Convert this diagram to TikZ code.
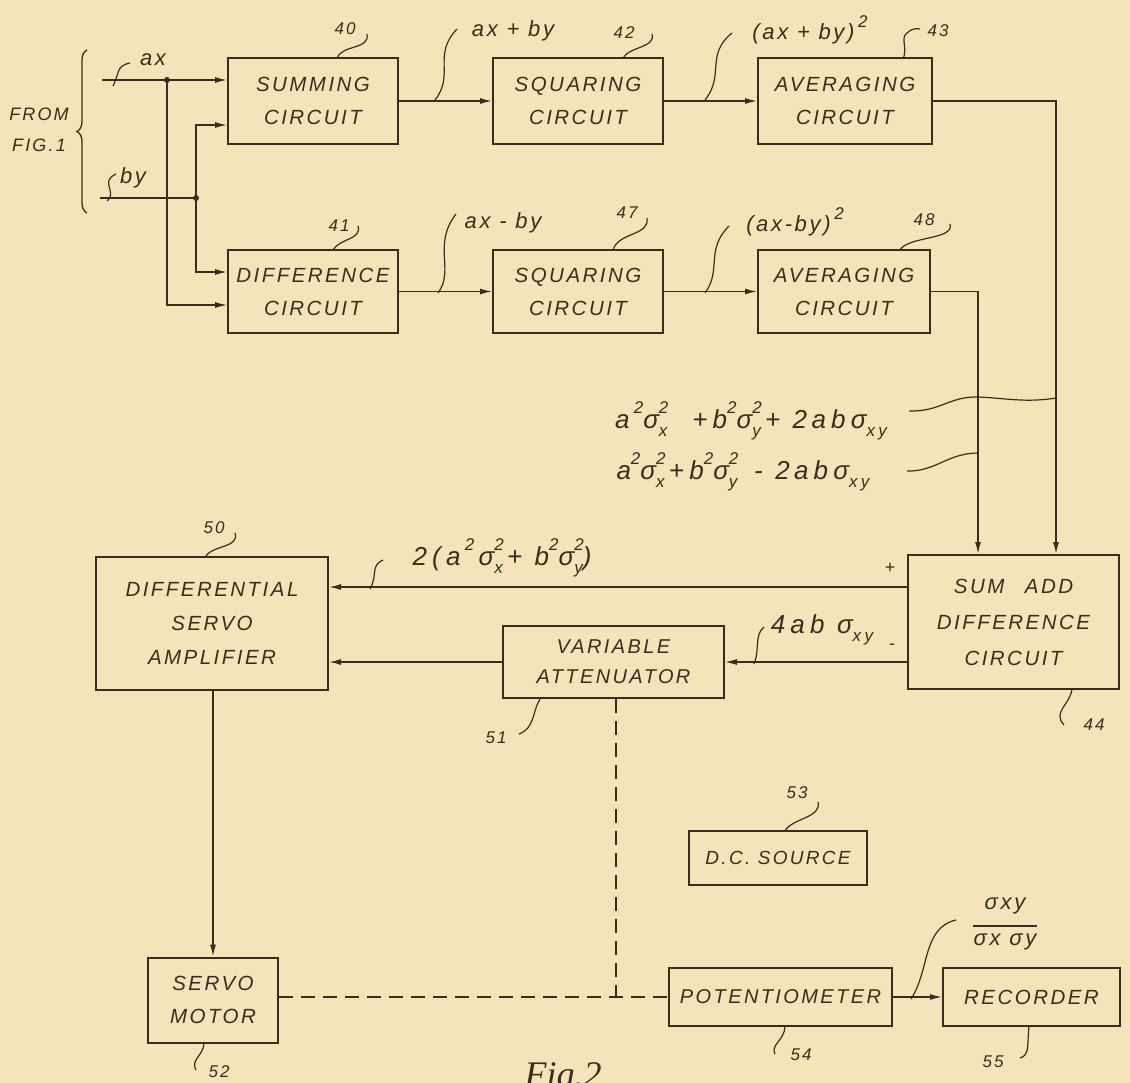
\documentclass[tikz,border=0pt]{standalone}
\usepackage{fontspec}
\setmainfont{Liberation Sans}[LetterSpace=12]
\newfontfamily\figfont{Liberation Serif}
\usetikzlibrary{arrows.meta,calc,decorations.pathreplacing}
\definecolor{paper}{RGB}{246,227,186}
\definecolor{ink}{RGB}{58,45,32}
\newcommand\smallscr{\fontsize{17}{17}\selectfont}
\newcommand\mySS[2]{\makebox[0pt][l]{\raisebox{0.55em}{\smallscr #1}}\raisebox{-0.32em}{\smallscr #2}}
\newcommand\mySup[1]{\raisebox{0.55em}{\smallscr #1}}
\newcommand\mySub[1]{\raisebox{-0.32em}{\smallscr #1}}
\newcommand\blkfont{\fontsize{20.5}{33}\selectfont\itshape}
\newcommand\lblfont{\fontsize{22}{26}\selectfont\itshape}
\newcommand\frmfont{\fontsize{26}{30}\selectfont\itshape\addfontfeatures{LetterSpace=20}}
\newcommand\reffont{\fontsize{17}{20}\selectfont\itshape}
\tikzset{
  blk/.style={draw=ink, line width=2pt, rectangle, inner sep=0pt, align=center, text=ink, font=\blkfont},
  wire/.style={draw=ink, line width=1.4pt},
  arr/.style={wire, -{Latex[length=12pt,width=6pt]}},
  lead/.style={draw=ink, line width=1.2pt},
  lbl/.style={text=ink, inner sep=0pt, font=\lblfont},
  frm/.style={text=ink, inner sep=0pt, font=\frmfont},
  refn/.style={text=ink, inner sep=0pt, font=\reffont},
  dsh/.style={draw=ink, line width=1.4pt, dash pattern=on 14pt off 8pt},
}
\begin{document}
\begin{tikzpicture}[x=1pt,y=-1pt]
\useasboundingbox (0,0) rectangle (1130,1083);
\fill[paper] (0,0) rectangle (1130,1083);

% blocks
\node[blk, minimum width=170pt, minimum height=86pt] (sum) at (313,101) {SUMMING\\CIRCUIT};
\node[blk, minimum width=170pt, minimum height=86pt] (sq1) at (578,101) {SQUARING\\CIRCUIT};
\node[blk, minimum width=174pt, minimum height=86pt] (avg1) at (845,101) {AVERAGING\\CIRCUIT};
\node[blk, minimum width=170pt, minimum height=83pt] (dif) at (313,291.5) {DIFFERENCE\\CIRCUIT};
\node[blk, minimum width=170pt, minimum height=83pt] (sq2) at (578,291.5) {SQUARING\\CIRCUIT};
\node[blk, minimum width=172pt, minimum height=83pt] (avg2) at (844,291.5) {AVERAGING\\CIRCUIT};
\node[blk, minimum width=211pt, minimum height=134pt, font=\fontsize{20.5}{36}\selectfont\itshape] (sad) at (1013.5,622) {SUM\quad ADD\\DIFFERENCE\\CIRCUIT};
\node[blk, minimum width=232pt, minimum height=133pt, font=\fontsize{20.5}{34}\selectfont\itshape] (dsa) at (212,623.5) {DIFFERENTIAL\\SERVO\\AMPLIFIER};
\node[blk, minimum width=221pt, minimum height=72pt, font=\fontsize{20}{30}\selectfont\itshape] (att) at (613.5,662) {VARIABLE\\ATTENUATOR};
\node[blk, minimum width=130pt, minimum height=85pt] (sm) at (213,1000) {SERVO\\MOTOR};
\node[blk, minimum width=178pt, minimum height=54pt, font=\fontsize{19}{22}\selectfont\itshape] (dcs) at (778,858) {D.C. SOURCE};
\node[blk, minimum width=223pt, minimum height=58pt, font=\fontsize{20}{22}\selectfont\itshape] (pot) at (780.5,997) {POTENTIOMETER};
\node[blk, minimum width=177pt, minimum height=58pt] (rec) at (1031.5,997) {RECORDER};

% inputs
\coordinate (axin) at (102,80);
\coordinate (byin) at (100,198);
\coordinate (J1) at (167,80);
\coordinate (J2) at (196,198);
\draw[arr] (axin) -- (axin -| sum.west);
\draw[wire] (byin) -- (J2);
\draw[arr] (J2) |- ($(sum.west)+(0,24)$);
\draw[arr] (J2) |- ($(dif.west)+(0,-19.5)$);
\draw[arr] (J1) |- ($(dif.west)+(0,13.5)$);
\fill[ink] (J1) circle (3pt);
\fill[ink] (J2) circle (3pt);
\draw[draw=ink, line width=1.3pt, decorate, decoration={brace, amplitude=10pt}] (87,213) -- (87,50);
\node[text=ink, inner sep=0pt, font=\fontsize{18}{31}\selectfont\itshape, align=center] (from) at (39,130) {FROM\\FIG.1};

% chains
\draw[arr] (sum.east) -- (sq1.west);
\draw[arr] (sq1.east) -- (avg1.west);
\draw[arr] (dif.east) -- (sq2.west);
\draw[arr] (sq2.east) -- (avg2.west);
\draw[arr] (avg1.east) -| ($(sad.north)+(42.5,0)$);
\draw[arr] (avg2.east) -| ($(sad.north)+(-35.5,0)$);

% lower section
\coordinate (plusout) at ($(sad.west)+(0,-35)$);
\draw[arr] (plusout) -- (plusout -| dsa.east);
\draw[arr] (sad.west |- att.east) -- (att.east);
\draw[arr] (att.west) -- (att.west -| dsa.east);
\draw[arr] (dsa.south -| sm.north) -- (sm.north);
\draw[dsh] (sm.east |- pot.west) -- (pot.west);
\coordinate (attd) at ($(att.south)+(2.5,0)$);
\draw[dsh] (attd) -- (attd |- pot.west);
\draw[wire] ($(dcs.south)+(-49,0)$) -- ($(dcs.south)+(-49,0)$ |- pot.north);
\draw[wire] ($(dcs.south)+(52,0)$) -- ($(dcs.south)+(52,0)$ |- pot.north);
\draw[arr] (pot.east) -- (rec.west);

% signal labels
\node[lbl] (lax) at (153,60) {ax};
\node[lbl] (lby) at (133,178) {by};
\node[lbl] (lsum) at (513,31) {ax + by};
\node[lbl] (ldif) at (503,223) {ax - by};
\node[lbl] (lsq1) at (810,30) {(ax + by)\,\mySup{2}};
\node[lbl] (lsq2) at (795,222) {(ax-by)\,\mySup{2}};
\node[frm] (f1) at (751,421) {a\,\mySup{2}σ\mySS{2}{x}\ \ +b\mySup{2}σ\mySS{2}{y}\,+ 2\,abσ\mySub{xy}};
\node[frm] (f2) at (743,472) {a\mySup{2}σ\mySS{2}{x}\,+b\mySup{2}σ\mySS{2}{y}\ \,- 2\,abσ\mySub{xy}};
\node[frm] (lplus) at (502,558) {2(a\,\mySup{2}\,σ\mySS{2}{x}\,+ b\mySup{2}σ\mySS{2}{y})};
\node[frm] (lminus) at (822,630) {4ab σ\mySub{xy}};
\node[lbl, font=\fontsize{18}{20}\selectfont] (pl) at (890,568) {+};
\node[lbl, font=\fontsize{18}{20}\selectfont] (mi) at (892,647) {-};
\node[lbl, align=center, font=\fontsize{22}{22}\selectfont\itshape] (frac) at (1005,924) {σxy\\[-5pt]\rule{64pt}{1.2pt}\\[-3pt]σx σy};

% reference numerals
\node[refn] (r40) at (345,29) {40};
\node[refn] (r41) at (339,226) {41};
\node[refn] (r42) at (624,33) {42};
\node[refn] (r47) at (627,213) {47};
\node[refn] (r43) at (938,31) {43};
\node[refn] (r48) at (924,220) {48};
\node[refn] (r50) at (214,528) {50};
\node[refn] (r51) at (496,738) {51};
\node[refn] (r44) at (1094,725) {44};
\node[refn] (r52) at (219,1072) {52};
\node[refn] (r53) at (797,793) {53};
\node[refn] (r54) at (801,1055) {54};
\node[refn] (r55) at (993,1062) {55};
\node[text=ink, inner sep=0pt, anchor=north, font=\figfont\fontsize{36}{38}\selectfont\itshape] (fig) at (563,1062) {Fig.2};

% reference leaders
\draw[lead] (337,58) .. controls (343,44) and (370,50) .. (367,34);
\draw[lead] (333,250) .. controls (340,238) and (362,240) .. (358,226);
\draw[lead] (623,58) .. controls (630,46) and (656,48) .. (652,34);
\draw[lead] (613,250) .. controls (618,232) and (650,236) .. (647,218);
\draw[lead] (903,59) .. controls (908,48) and (900,38) .. (907,33) .. controls (911,29) and (916,28) .. (920,29);
\draw[lead] (900,250) .. controls (908,236) and (955,240) .. (950,224);
\draw[lead] (205,557) .. controls (212,545) and (240,548) .. (235,533);
\draw[lead] (540,699) .. controls (532,712) and (535,728) .. (519,734);
\draw[lead] (1072,689) .. controls (1070,705) and (1052,712) .. (1064,725);
\draw[lead] (204,1043) .. controls (204,1055) and (190,1060) .. (196,1070);
\draw[lead] (785,831) .. controls (792,818) and (822,818) .. (818,802);
\draw[lead] (785,1026) .. controls (785,1040) and (770,1045) .. (775,1054);
\draw[lead] (1029,1026) .. controls (1027,1045) and (1030,1055) .. (1020,1058);

% signal leaders
\draw[lead] (113,86) .. controls (120,72) and (116,66) .. (130,63);
\draw[lead] (107,201) .. controls (118,192) and (99,182) .. (116,174);
\draw[lead] (435,100) .. controls (455,75) and (432,55) .. (457,29);
\draw[lead] (438,293) .. controls (455,270) and (432,245) .. (456,214);
\draw[lead] (705,100) .. controls (725,75) and (705,55) .. (732,33);
\draw[lead] (705,293) .. controls (722,270) and (705,250) .. (729,226);
\draw[lead] (370,589) .. controls (378,575) and (370,566) .. (383,560);
\draw[lead] (754,664) .. controls (760,650) and (754,635) .. (764,627);
\draw[lead] (911,999) .. controls (930,970) and (922,928) .. (956,920);
\draw[lead] (909,411) .. controls (940,412) and (950,396) .. (978,397) .. controls (1005,398) and (1025,403) .. (1056,398);
\draw[lead] (907,471) .. controls (935,472) and (948,453) .. (978,453);
\end{tikzpicture}
\end{document}
